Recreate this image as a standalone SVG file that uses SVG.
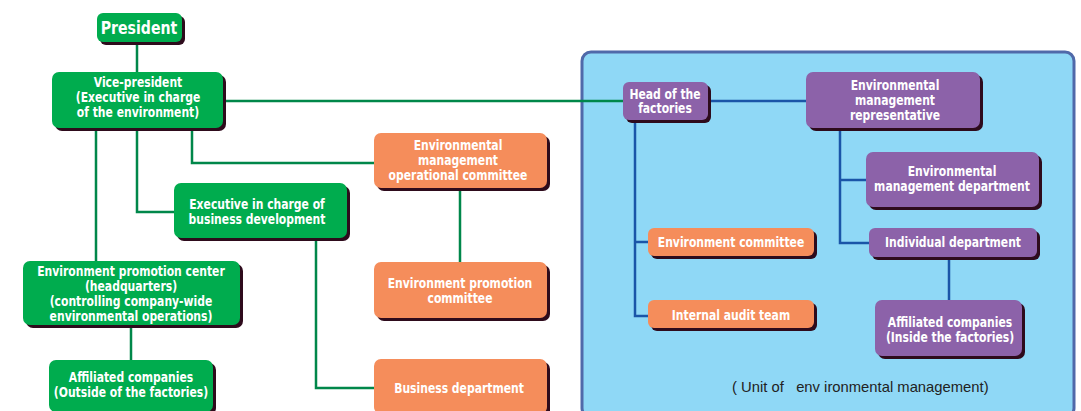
<svg xmlns="http://www.w3.org/2000/svg" width="1081" height="411" viewBox="0 0 1081 411">
<style>
.t{font-family:"DejaVu Sans Condensed","Liberation Sans",sans-serif;font-weight:bold;font-size:13.5px;fill:#fff;text-anchor:middle}
.g{fill:#00ac4e}.o{fill:#f58d5b}.p{fill:#8c62a9}
.sh{fill:#2e0b1c}
.lg{stroke:#00874a;stroke-width:2.5;fill:none}
.lb{stroke:#1a55a8;stroke-width:2.5;fill:none}
.cap{font-family:"Liberation Sans",Arial,sans-serif;font-size:14.8px;fill:#222;white-space:pre}
</style>
<rect width="1081" height="411" fill="#fff"/>
<rect x="582" y="52" width="492" height="365" rx="9" fill="#8fd8f6" stroke="#5069a9" stroke-width="3"/>
<g id="connectors">
<path class="lg" d="M137 42V73M222 101H624M96 128V262M137 128V212H175M192 128V163H375M131 325V361M316 238V388H375M460 188V263"/>
<path class="lb" d="M708 101H807M635 120V316H649M635 242H649M840 128V243H870M840 180H867M949 257V301"/>
</g>
<g id="president"><rect class="sh" x="100" y="16" width="85" height="29" rx="6"/><rect class="g" x="97" y="13" width="85" height="29" rx="6"/><text class="t" transform="translate(139 34) scale(.87 1)" style="font-size:18px">President</text></g>
<g id="vice-president"><rect class="sh" x="55" y="75" width="171" height="56" rx="7"/><rect class="g" x="52" y="72" width="171" height="56" rx="7"/><text class="t" transform="translate(138 0) scale(.89 1)"><tspan x="0" y="87">Vice-president</tspan><tspan x="0" y="102">(Executive in charge</tspan><tspan x="0" y="117">of the environment)</tspan></text></g>
<g id="exec-business"><rect class="sh" x="177" y="186" width="173" height="55" rx="7"/><rect class="g" x="174" y="183" width="173" height="55" rx="7"/><text class="t" transform="translate(257 0) scale(.89 1)"><tspan x="0" y="209">Executive in charge of</tspan><tspan x="0" y="224">business development</tspan></text></g>
<g id="env-promotion-center"><rect class="sh" x="26" y="264" width="217" height="64" rx="7"/><rect class="g" x="23" y="261" width="217" height="64" rx="7"/><text class="t" transform="translate(131 0) scale(.89 1)"><tspan x="0" y="276">Environment promotion center</tspan><tspan x="0" y="291">(headquarters)</tspan><tspan x="0" y="306">(controlling company-wide</tspan><tspan x="0" y="321">environmental operations)</tspan></text></g>
<g id="affiliated-outside"><rect class="sh" x="52" y="363" width="164" height="52" rx="7"/><rect class="g" x="49" y="360" width="164" height="52" rx="7"/><text class="t" transform="translate(131 0) scale(.89 1)"><tspan x="0" y="382">Affiliated companies</tspan><tspan x="0" y="397">(Outside of the factories)</tspan></text></g>
<g id="env-mgmt-op-committee"><rect class="sh" x="377" y="136" width="173" height="55" rx="7"/><rect class="o" x="374" y="133" width="173" height="55" rx="7"/><text class="t" transform="translate(458 0) scale(.89 1)"><tspan x="0" y="150">Environmental</tspan><tspan x="0" y="165">management</tspan><tspan x="0" y="180">operational committee</tspan></text></g>
<g id="env-promotion-committee"><rect class="sh" x="377" y="265" width="173" height="56" rx="7"/><rect class="o" x="374" y="262" width="173" height="56" rx="7"/><text class="t" transform="translate(460 0) scale(.89 1)"><tspan x="0" y="288">Environment promotion</tspan><tspan x="0" y="303">committee</tspan></text></g>
<g id="business-department"><rect class="sh" x="377" y="362" width="173" height="55" rx="7"/><rect class="o" x="374" y="359" width="173" height="55" rx="7"/><text class="t" transform="translate(459 393) scale(.89 1)">Business department</text></g>
<g id="head-factories"><rect class="sh" x="626" y="85" width="85" height="38" rx="6"/><rect class="p" x="623" y="82" width="85" height="38" rx="6"/><text class="t" transform="translate(665 0) scale(.89 1)"><tspan x="0" y="99">Head of the</tspan><tspan x="0" y="113">factories</tspan></text></g>
<g id="env-mgmt-rep"><rect class="sh" x="809" y="75" width="174" height="56" rx="7"/><rect class="p" x="806" y="72" width="174" height="56" rx="7"/><text class="t" transform="translate(895 0) scale(.89 1)"><tspan x="0" y="90">Environmental</tspan><tspan x="0" y="105">management</tspan><tspan x="0" y="120">representative</tspan></text></g>
<g id="env-mgmt-dept"><rect class="sh" x="869" y="155" width="173" height="55" rx="7"/><rect class="p" x="866" y="152" width="173" height="55" rx="7"/><text class="t" transform="translate(952 0) scale(.89 1)"><tspan x="0" y="176">Environmental</tspan><tspan x="0" y="191">management department</tspan></text></g>
<g id="individual-dept"><rect class="sh" x="872" y="231" width="168" height="29" rx="6"/><rect class="p" x="869" y="228" width="168" height="29" rx="6"/><text class="t" transform="translate(953 247) scale(.89 1)">Individual department</text></g>
<g id="affiliated-inside"><rect class="sh" x="878" y="303" width="147" height="56" rx="7"/><rect class="p" x="875" y="300" width="147" height="56" rx="7"/><text class="t" transform="translate(950 0) scale(.89 1)"><tspan x="0" y="327">Affiliated companies</tspan><tspan x="0" y="342">(Inside the factories)</tspan></text></g>
<g id="env-committee"><rect class="sh" x="651" y="231" width="166" height="28" rx="6"/><rect class="o" x="648" y="228" width="166" height="28" rx="6"/><text class="t" transform="translate(731 247) scale(.89 1)">Environment committee</text></g>
<g id="internal-audit"><rect class="sh" x="651" y="303" width="166" height="28" rx="6"/><rect class="o" x="648" y="300" width="166" height="28" rx="6"/><text class="t" transform="translate(731 320) scale(.89 1)">Internal audit team</text></g>
<text class="cap" x="732" y="392" xml:space="preserve">( Unit of   env ironmental management)</text>
</svg>
